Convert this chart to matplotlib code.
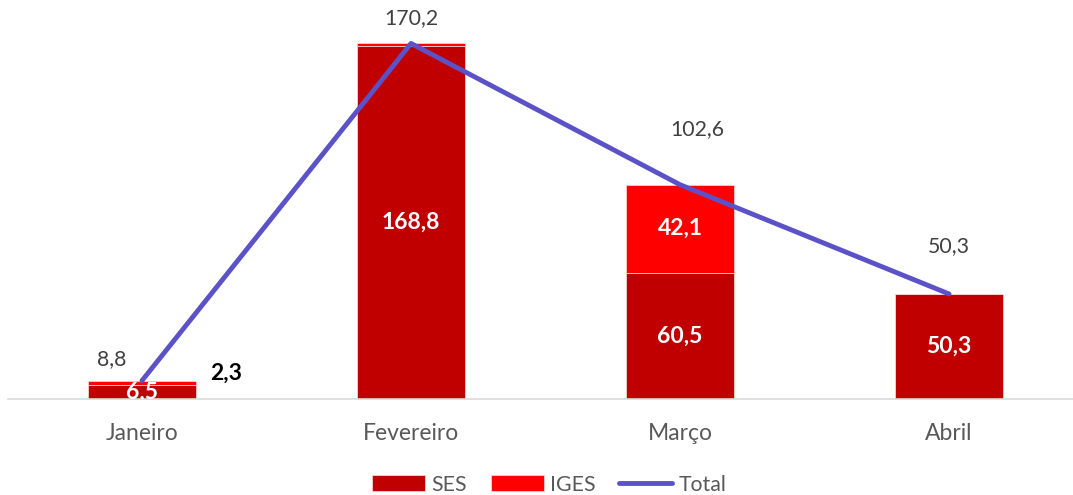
import matplotlib
matplotlib.use("Agg")
import matplotlib.pyplot as plt
import numpy as np

plt.rcParams['font.family'] = ['Lato', 'DejaVu Sans']

meses = ["Janeiro", "Fevereiro", "Março", "Abril"]
ses = [6.5, 168.8, 60.5, 50.3]
iges = [2.3, 1.4, 42.1, 0.0]
total = [8.8, 170.2, 102.6, 50.3]

# which segment labels are shown, and offsets (px) for the total labels
mostrar_ses = [True, True, True, True]
mostrar_iges = [False, False, True, False]
offset_total = [(-30, 22), (0, 25), (17, 56), (0, 48)]

cor_ses = "#C00000"
cor_iges = "#FF0000"
cor_total = "#5B52C8"

fig = plt.figure(figsize=(10.73, 4.95), dpi=100)
ax = fig.add_axes([7.5 / 1073, 1 - 399 / 495, 1076 / 1073, 376 / 495])

x = np.arange(len(meses))
larg = 0.4
ax.bar(x, ses, larg, color=cor_ses, edgecolor="#F4D0D0", linewidth=0.6, label="SES", zorder=2)
ax.bar(x, iges, larg, bottom=ses, color=cor_iges, edgecolor="#F4D0D0", linewidth=0.6, label="IGES", zorder=2)
ax.plot(x, total, color=cor_total, linewidth=3.5, label="Total", zorder=3, solid_capstyle="round")

ax.set_xlim(-0.5, 3.5)
ax.set_ylim(0, 180)

fmt = lambda v: f"{v:.1f}".replace(".", ",")

for i in range(len(meses)):
    if mostrar_ses[i]:
        ax.text(x[i], ses[i] / 2, fmt(ses[i]), ha="center", va="center",
                color="white", fontsize=16.5, fontweight="bold", zorder=4, clip_on=True)
    if mostrar_iges[i]:
        ax.text(x[i], ses[i] + iges[i] / 2, fmt(iges[i]), ha="center", va="center",
                color="white", fontsize=16.5, fontweight="bold", zorder=4)
    dx, dy = offset_total[i]
    ax.annotate(fmt(total[i]), (x[i], total[i]), xytext=(dx * 0.72, dy * 0.72),
                textcoords="offset points", ha="center", va="center", color="#404040", fontsize=15.3,
                annotation_clip=False)

# IGES de janeiro fica fora da barra, em preto
ax.annotate(fmt(iges[0]), (x[0], ses[0] + iges[0] / 2), xytext=(84 * 0.72, 10 * 0.72),
            textcoords="offset points", ha="center", va="center", color="black", fontsize=16.5,
            fontweight="bold", annotation_clip=False)

for s in ["top", "left", "right"]:
    ax.spines[s].set_visible(False)
ax.spines["bottom"].set_color("#D9D9D9")
ax.spines["bottom"].set_linewidth(1.2)
ax.set_yticks([])
ax.set_xticks(x)
ax.set_xticklabels(meses, fontsize=16.5, color="#595959")
ax.tick_params(axis="x", length=0, pad=17)

h, l = ax.get_legend_handles_labels()
ordem = [l.index("SES"), l.index("IGES"), l.index("Total")]
fig.legend([h[k] for k in ordem], [l[k] for k in ordem], loc="lower center",
           bbox_to_anchor=(0.512, -0.038), ncol=3, frameon=False, fontsize=15.3,
           handlelength=2.5, handleheight=0.75, columnspacing=1.1, handletextpad=0.3,
           labelcolor="#595959")

fig.savefig("out.png", dpi=100)
